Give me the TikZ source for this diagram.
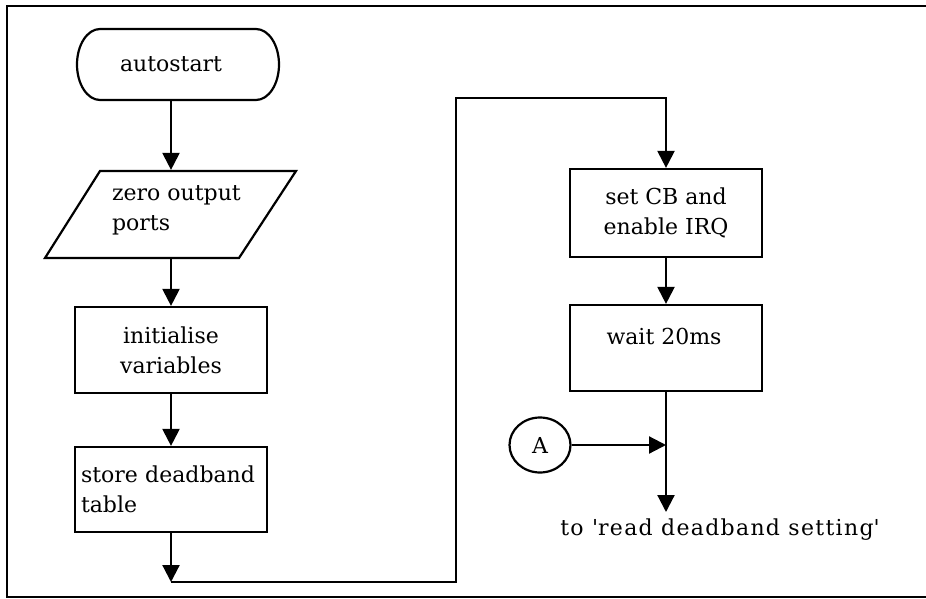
\documentclass[tikz,border=0pt]{standalone}
\usepackage{fontspec}
\setmainfont{DejaVu Serif}
\newfontfamily\widespaced{DejaVu Serif}[LetterSpace=6]
\usetikzlibrary{arrows.meta,shapes.geometric}
\begin{document}
\begin{tikzpicture}[x=1pt,y=-1pt,line width=2.2pt,
  font=\fontsize{22}{30}\selectfont,
  arr/.style={-{Triangle[length=17pt,width=17pt]}},
  box/.style={draw,rectangle,inner sep=6pt,minimum width=192pt,align=center},
  conn/.style={draw,ellipse,minimum width=61pt,minimum height=55pt,inner sep=0pt}]
\useasboundingbox (0,0) rectangle (926,599);

% outer frame
\draw (926,6) -- (7,6) -- (7,597) -- (926,597);

% left column: terminal with elliptic ends
\node[minimum width=190pt,minimum height=71pt,inner sep=0pt] (start) at (171,64.5) {autostart};
\draw (100,29) -- (256,29)
  .. controls (268.7,29) and (279,44.9) .. (279,64.5)
  .. controls (279,84.1) and (268.7,100) .. (256,100)
  -- (100,100)
  .. controls (87.3,100) and (77,84.1) .. (77,64.5)
  .. controls (77,44.9) and (87.3,29) .. (100,29) -- cycle;
\node[minimum width=190pt,minimum height=87pt,inner sep=0pt] (zero) at (171,214.5) {};
\draw (100,171) -- (296,171) -- (239,258) -- (45,258) -- cycle;
\node[anchor=base west,align=left,inner sep=0pt] (zerotxt) at (111,230) {zero output\\ports};
\node[box,minimum height=86pt] (init) at (171,350) {initialise\\variables};
\node[box,minimum height=85pt,text width=180pt,align=left] (store) at (171,489.5) {store deadband\\table};

% right column
\node[box,minimum height=88pt] (set) at (666,213) {set CB and\\enable IRQ};
\node[box,minimum height=86pt] (wait) at (666,348) {};
\node[anchor=base,inner sep=0pt] (waittxt) at (664,344) {wait 20ms};
\node[conn] (A) at (540,445) {A};
\node[anchor=base,inner sep=0pt,font=\fontsize{22}{30}\widespaced] (dest) at (720,535) {to \textquotesingle read deadband setting\textquotesingle};

% connectors
\coordinate (turn) at (171,582);
\coordinate (up) at (456,98);
\coordinate (exit) at (666,512);
\coordinate (join) at (666,445);
\draw[arr] (start.south) -- (zero.north);
\draw[arr] (zero.south) -- (init.north);
\draw[arr] (init.south) -- (store.north);
\draw[arr] (store.south) -- (turn);
\draw[arr] (turn) -| (up) -| (set.north);
\draw[arr] (set.south) -- (wait.north);
\draw[arr] (wait.south) -- (exit);
\draw[arr] (A.east) -- (join);
\end{tikzpicture}
\end{document}
